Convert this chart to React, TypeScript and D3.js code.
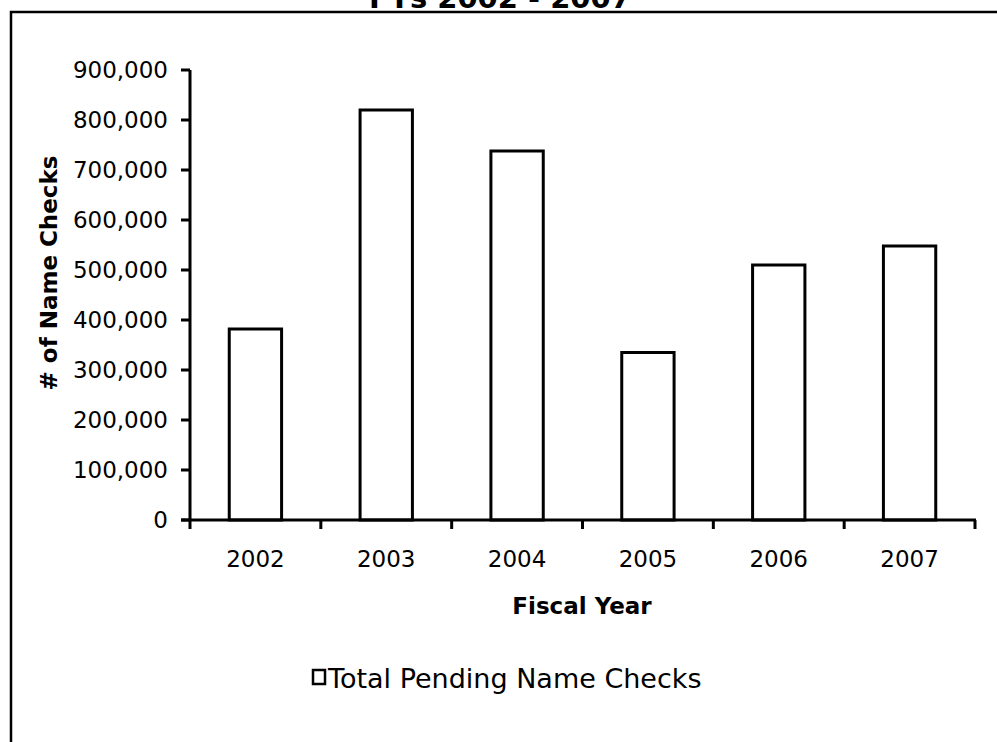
import React from "react";
import * as d3 from "d3";

const years = ["2002", "2003", "2004", "2005", "2006", "2007"];
const pending = [382000, 820000, 738000, 335000, 510000, 548000];
const yTicks = [0, 100000, 200000, 300000, 400000, 500000, 600000, 700000, 800000, 900000];
const title = "FYs 2002 - 2007";
const seriesName = "Total Pending Name Checks";

const W = 997;
const H = 742;
const FONT = "'DejaVu Sans', Verdana, sans-serif";

export default function App() {
  const x = d3.scaleBand<string>().domain(years).range([190, 975]).padding(0);
  const y = d3.scaleLinear().domain([0, 900000]).range([520, 70]);
  const bw = x.bandwidth() * 0.4;
  const fmt = d3.format(",");
  const boundaries = [...years.map((d) => x(d) as number), 975];

  return (
    <svg width={W} height={H} style={{ position: "absolute", left: 0, top: 0, background: "#fff" }}>
      <rect x={0} y={0} width={W} height={H} fill="#fff" />
      <rect x={11} y={12} width={1000} height={800} fill="none" stroke="#000" strokeWidth={2.5} />
      <text x={500} y={8} textAnchor="middle" fontFamily={FONT} fontWeight="bold" fontSize={29}>
        {title}
      </text>

      {/* bars */}
      {years.map((yr, i) => {
        const cx = (x(yr) as number) + x.bandwidth() / 2;
        return (
          <rect
            key={yr}
            x={cx - bw / 2}
            y={y(pending[i])}
            width={bw}
            height={y(0) - y(pending[i])}
            fill="#fff"
            stroke="#000"
            strokeWidth={3}
          />
        );
      })}

      {/* y axis */}
      <line x1={190} x2={190} y1={y(900000)} y2={y(0)} stroke="#000" strokeWidth={3} />
      {yTicks.map((t) => (
        <g key={t}>
          <line x1={181} x2={190} y1={y(t)} y2={y(t)} stroke="#000" strokeWidth={3} />
          <text x={168} y={y(t)} dy="0.36em" textAnchor="end" fontFamily={FONT} fontSize={23}>
            {fmt(t)}
          </text>
        </g>
      ))}

      {/* x axis */}
      <line x1={181} x2={976} y1={y(0)} y2={y(0)} stroke="#000" strokeWidth={3} />
      {boundaries.map((b, i) => (
        <line key={i} x1={b} x2={b} y1={y(0)} y2={y(0) + 9} stroke="#000" strokeWidth={3} />
      ))}
      {years.map((yr) => (
        <text
          key={yr}
          x={(x(yr) as number) + x.bandwidth() / 2}
          y={567}
          textAnchor="middle"
          fontFamily={FONT}
          fontSize={23}
        >
          {yr}
        </text>
      ))}

      <text x={582} y={614} textAnchor="middle" fontFamily={FONT} fontWeight="bold" fontSize={23}>
        Fiscal Year
      </text>

      <text
        transform={`translate(57,273) rotate(-90)`}
        textAnchor="middle"
        fontFamily={FONT}
        fontWeight="bold"
        fontSize={23}
      >
        # of Name Checks
      </text>

      {/* legend */}
      <rect x={313} y={670} width={12} height={14} fill="#fff" stroke="#000" strokeWidth={2.5} />
      <text x={328} y={688} fontFamily={FONT} fontSize={27}>
        {seriesName}
      </text>
    </svg>
  );
}
